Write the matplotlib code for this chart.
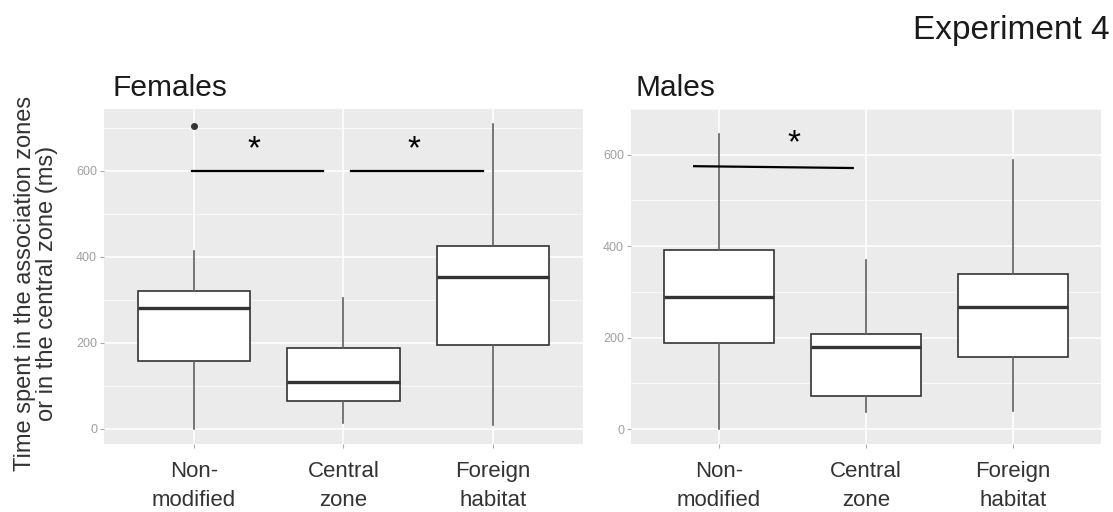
import matplotlib.pyplot as plt

plt.rcParams['font.family'] = ['Liberation Sans', 'DejaVu Sans']

# categories shared by both panels
categories = ["Non-\nmodified", "Central\nzone", "Foreign\nhabitat"]

# Females: box statistics (ms)
fem_low = [0, 14, 9]
fem_q1 = [158, 64, 195]
fem_med = [281, 108, 352]
fem_q3 = [321, 187, 425]
fem_high = [414, 305, 708]
fem_outliers = [[704], [], []]

# Males
mal_low = [0, 37, 39]
mal_q1 = [188, 73, 158]
mal_med = [288, 180, 268]
mal_q3 = [392, 209, 340]
mal_high = [646, 369, 589]
mal_outliers = [[], [], []]

# significance bars: (x0, x1, y0, y1, star_x, star_y)
fem_sig = [(0.99, 1.86, 600, 600, 1.40, 648), (2.05, 2.93, 600, 600, 2.47, 648)]
mal_sig = [(0.83, 1.91, 575, 571, 1.51, 625)]

y_ticks = [0, 200, 400, 600]


def make_stats(low, q1, med, q3, high, outl):
    stats = []
    for i in range(len(med)):
        stats.append({"whislo": low[i], "q1": q1[i], "med": med[i], "q3": q3[i],
                      "whishi": high[i], "fliers": outl[i]})
    return stats


def draw_panel(ax, stats, sig, title):
    ax.set_facecolor("#ebebeb")
    for s in ax.spines.values():
        s.set_visible(False)
    ax.bxp(stats, positions=[1, 2, 3], widths=0.75, showcaps=False, patch_artist=True,
           boxprops=dict(facecolor="white", edgecolor="#333333", linewidth=1.2),
           medianprops=dict(color="#333333", linewidth=2.4),
           whiskerprops=dict(color="#606060", linewidth=1.2),
           flierprops=dict(marker="o", markersize=4, markerfacecolor="#333333",
                           markeredgecolor="#333333"),
           zorder=3)
    lo = min(min(st["whislo"] for st in stats), min([min(st["fliers"]) for st in stats if st["fliers"]] or [1e9]))
    hi = max(max(st["whishi"] for st in stats), max([max(st["fliers"]) for st in stats if st["fliers"]] or [-1e9]))
    pad = 0.05 * (hi - lo)
    ax.set_ylim(lo - pad, hi + pad)
    ax.set_xlim(0.4, 3.6)
    ax.set_yticks(y_ticks)
    ax.set_yticks([100, 300, 500, 700], minor=True)
    ax.set_xticks([1, 2, 3])
    ax.set_xticklabels(categories, fontsize=16, color="#333333", linespacing=1.5)
    ax.tick_params(axis="y", labelsize=9, labelcolor="#a0a0a0", color="#aaaaaa", length=3, pad=2)
    ax.tick_params(axis="y", which="minor", length=0)
    ax.tick_params(axis="x", color="#aaaaaa", length=3, pad=9)
    ax.grid(True, which="major", color="white", linewidth=1.1, zorder=0)
    ax.grid(True, axis="y", which="minor", color="white", linewidth=0.5, zorder=0)
    ax.set_axisbelow(True)
    for x0, x1, y0, y1, sx, sy in sig:
        ax.plot([x0, x1], [y0, y1], color="black", linewidth=1.6, zorder=4)
        ax.text(sx, sy, "*", ha="center", va="center", fontsize=24, zorder=4)


fig = plt.figure(figsize=(11.13, 5.12), dpi=100)
ax1 = fig.add_axes([0.0934, 0.1328, 0.4304, 0.6543])
ax2 = fig.add_axes([0.5669, 0.1328, 0.4223, 0.6543])

draw_panel(ax1, make_stats(fem_low, fem_q1, fem_med, fem_q3, fem_high, fem_outliers), fem_sig, "Females")
draw_panel(ax2, make_stats(mal_low, mal_q1, mal_med, mal_q3, mal_high, mal_outliers), mal_sig, "Males")

fig.text(113 / 1113, 1 - 88 / 512, "Females", ha="left", va="center", fontsize=21.5, color="#1a1a1a")
fig.text(636 / 1113, 1 - 88 / 512, "Males", ha="left", va="center", fontsize=21.5, color="#1a1a1a")

fig.text(36 / 1113, 1 - 283 / 512, "Time spent in the association zones\nor in the central zone (ms)",
         rotation=90, ha="center", va="center", fontsize=17, color="#333333",
         multialignment="center", linespacing=1.05)
fig.text(1110 / 1113, 1 - 31 / 512, "Experiment 4", ha="right", va="center",
         fontsize=24, color="#1a1a1a")

fig.savefig("out.png", dpi=100)
